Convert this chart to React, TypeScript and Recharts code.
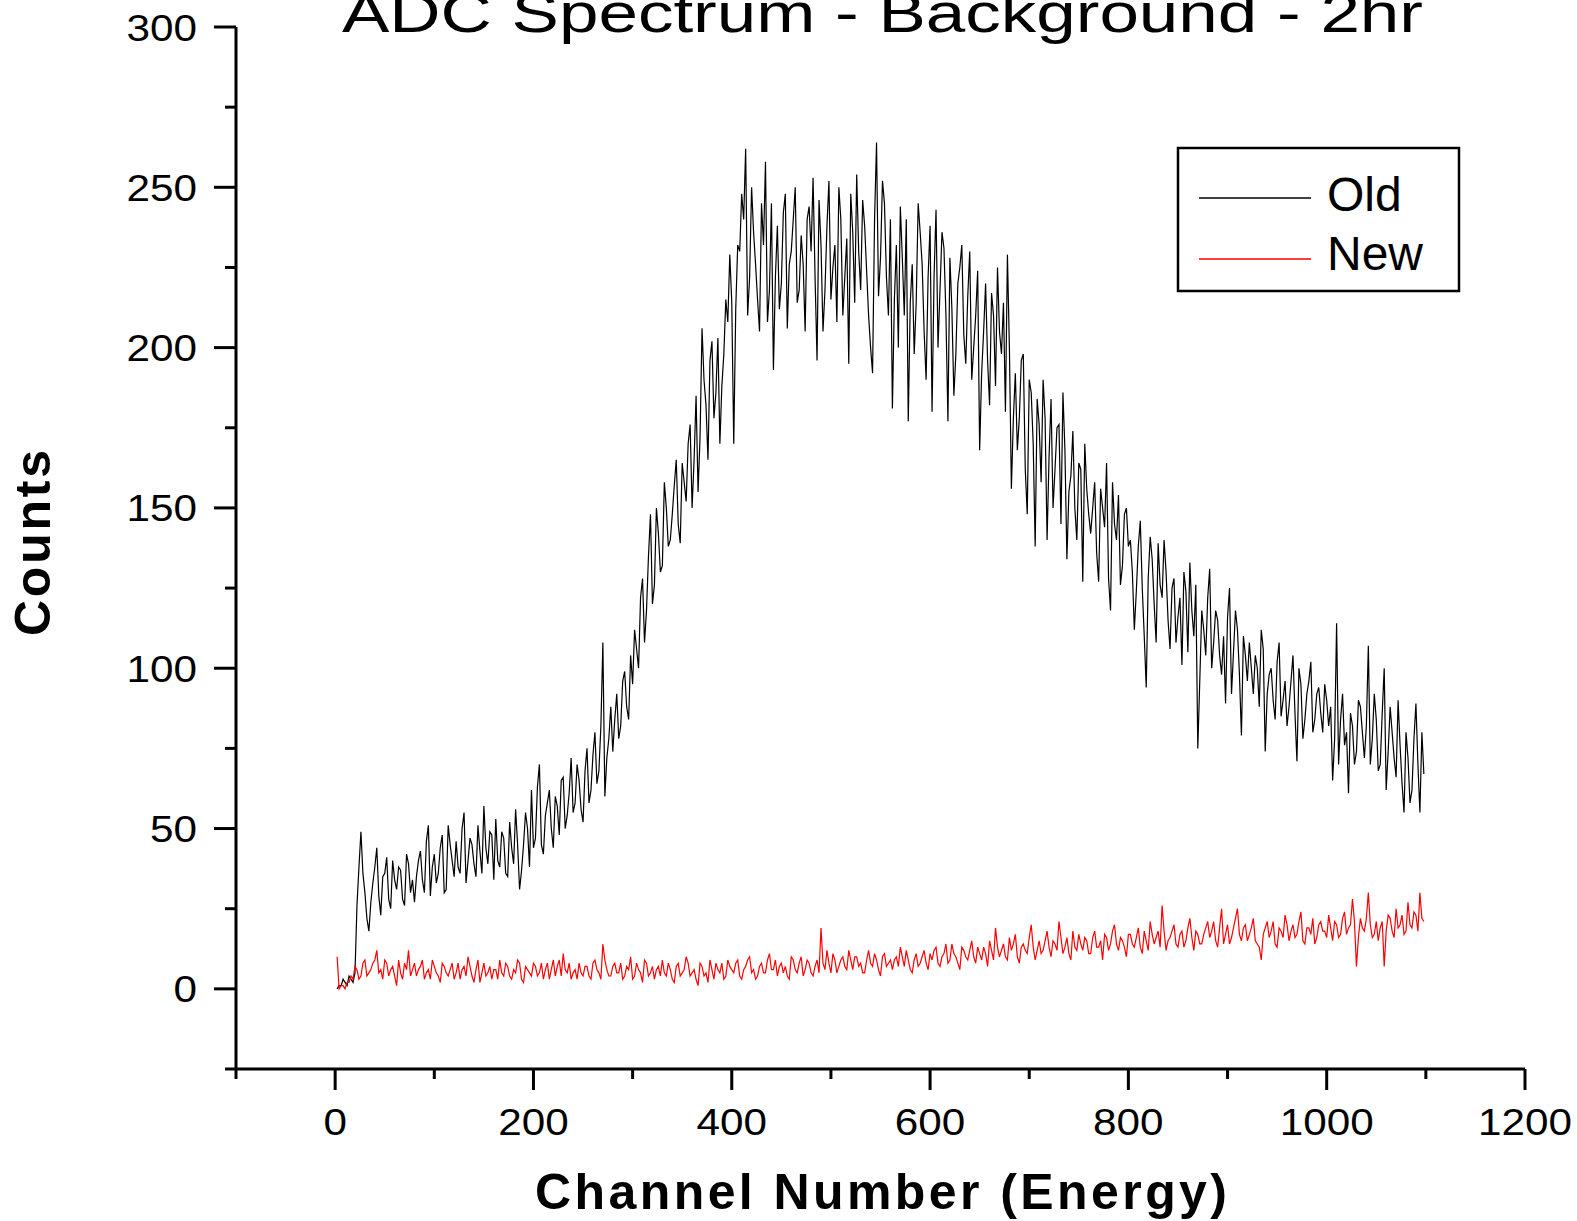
import { Label, Line, LineChart, XAxis, YAxis } from "recharts";

const FONT = '"Liberation Sans", Arial, sans-serif';

// spectrum read every 2 channels: the main arrays hold channels 2, 6, 10, ...
// and the "Mid" arrays the channels in between (4, 8, 12, ...)
const firstChannel = 2;
const channelStep = 4;

// "Old" detector, counts at channels 2, 6, 10 ... 1098
const oldCounts = [
  0, 1, 2, 4, 2, 26, 49, 30, 18, 33, // 2-38
  44, 23, 36, 28, 40, 31, 37, 26, 39, 34,
  35, 43, 30, 51, 38, 33, 44, 30, 51, 40,
  46, 36, 55, 40, 45, 35, 43, 57, 39, 48,
  53, 38, 47, 35, 44, 56, 31, 45, 50, 62,
  47, 70, 42, 58, 50, 60, 48, 66, 54, 72, // 202-238
  58, 65, 52, 75, 62, 80, 68, 108, 72, 88,
  84, 78, 96, 88, 104, 112, 100, 128, 118, 148,
  126, 142, 132, 150, 140, 157, 145, 164, 152, 176,
  165, 155, 206, 182, 196, 178, 203, 188, 215, 229,
  170, 232, 248, 262, 222, 236, 215, 245, 258, 218, // 402-438
  193, 238, 220, 248, 226, 240, 214, 235, 205, 244,
  253, 196, 232, 218, 252, 225, 208, 240, 222, 195,
  236, 254, 218, 238, 210, 192, 264, 228, 245, 210,
  181, 232, 244, 210, 177, 226, 214, 236, 205, 222,
  180, 243, 218, 231, 177, 212, 198, 225, 204, 216, // 602-638
  190, 210, 168, 205, 196, 217, 188, 205, 214, 229,
  156, 192, 178, 198, 148, 186, 138, 176, 190, 140,
  184, 162, 176, 186, 134, 160, 150, 164, 127, 156,
  142, 158, 127, 150, 164, 118, 145, 154, 132, 150,
  140, 112, 138, 125, 94, 141, 120, 139, 122, 130, // 802-838
  106, 128, 116, 101, 124, 133, 110, 75, 118, 104,
  131, 108, 115, 98, 89, 125, 105, 112, 79, 104,
  108, 92, 100, 112, 74, 98, 90, 102, 85, 96,
  88, 104, 71, 95, 84, 96, 80, 92, 86, 95,
  82, 65, 114, 84, 76, 61, 82, 74, 88, 72, // 1002-1038
  107, 78, 84, 70, 100, 74, 80, 66, 76, 55,
  72, 62, 89, 55, 67,
];

// "Old" detector, counts at channels 4, 8, 12 ... 1096
const oldCountsMid = [
  1, 3, 1, 3, 5, 38, 36, 22, 27, 38, // 4-40
  29, 35, 41, 25, 34, 38, 28, 42, 30, 27,
  40, 34, 46, 29, 42, 36, 48, 31, 45, 35,
  38, 50, 33, 47, 39, 51, 36, 44, 49, 34,
  40, 49, 36, 52, 39, 45, 37, 55, 38, 44,
  63, 45, 54, 62, 44, 57, 65, 50, 61, 55, // 204-240
  70, 56, 68, 58, 73, 64, 82, 60, 78, 74,
  92, 82, 99, 84, 95, 106, 122, 108, 135, 120,
  150, 130, 158, 138, 148, 165, 139, 158, 170, 150,
  185, 172, 190, 165, 202, 186, 170, 198, 208, 214,
  212, 230, 240, 210, 250, 226, 205, 232, 208, 245, // 404-440
  222, 212, 242, 206, 230, 250, 218, 226, 240, 230,
  222, 246, 205, 238, 215, 232, 250, 210, 234, 248,
  214, 230, 246, 224, 200, 240, 216, 252, 222, 240,
  215, 200, 228, 240, 214, 198, 245, 226, 190, 238,
  222, 200, 236, 210, 228, 185, 220, 232, 195, 230, // 604-640
  200, 224, 192, 220, 182, 210, 225, 198, 180, 200,
  178, 168, 196, 162, 190, 170, 184, 158, 178, 166,
  150, 175, 145, 168, 155, 174, 140, 162, 170, 148,
  150, 136, 156, 144, 128, 158, 140, 126, 148, 138,
  130, 124, 146, 110, 128, 134, 108, 126, 140, 115, // 804-840
  125, 108, 122, 130, 105, 118, 126, 96, 112, 122,
  100, 118, 104, 110, 116, 92, 118, 98, 110, 96,
  100, 104, 88, 106, 92, 100, 84, 108, 90, 82,
  96, 86, 100, 78, 92, 102, 84, 94, 80, 90,
  88, 78, 70, 92, 80, 86, 70, 90, 80, 82, // 1004-1040
  70, 92, 68, 86, 62, 88, 72, 90, 64, 80,
  58, 78, 70, 80,
];

// "New" detector, counts at channels 2, 6, 10 ... 1098
const newCounts = [
  10, 1, 0, 2, 3, 6, 4, 9, 5, 8, // 2-38
  12, 6, 9, 4, 7, 1, 5, 8, 12, 6,
  4, 7, 3, 6, 9, 5, 2, 7, 4, 8,
  5, 3, 7, 10, 4, 6, 2, 8, 5, 3,
  6, 9, 4, 7, 3, 5, 8, 2, 6, 4,
  7, 5, 3, 8, 6, 4, 9, 11, 5, 3, // 202-238
  6, 8, 4, 7, 3, 9, 5, 14, 6, 4,
  8, 5, 3, 7, 10, 4, 6, 2, 8, 5,
  3, 7, 9, 4, 6, 2, 8, 5, 10, 4,
  6, 1, 7, 5, 9, 3, 6, 8, 4, 7,
  5, 9, 3, 7, 10, 6, 4, 8, 5, 11, // 402-438
  6, 4, 8, 7, 3, 9, 5, 10, 6, 8,
  4, 9, 19, 6, 8, 11, 5, 9, 7, 12,
  6, 10, 8, 5, 12, 7, 9, 4, 11, 8,
  6, 10, 13, 7, 9, 5, 11, 8, 12, 6,
  9, 13, 7, 11, 8, 14, 10, 6, 12, 9, // 602-638
  15, 8, 11, 13, 7, 12, 19, 10, 14, 9,
  12, 17, 8, 14, 11, 20, 9, 15, 12, 18,
  10, 14, 21, 11, 16, 9, 13, 17, 12, 15,
  11, 18, 13, 9, 16, 14, 20, 12, 15, 10,
  17, 13, 19, 11, 15, 21, 14, 18, 26, 12, // 802-838
  16, 20, 13, 18, 15, 22, 12, 17, 14, 19,
  16, 21, 13, 25, 17, 14, 19, 25, 15, 20,
  17, 22, 14, 9, 19, 16, 21, 13, 18, 23,
  15, 20, 17, 24, 14, 19, 22, 16, 21, 18,
  23, 15, 20, 17, 24, 19, 28, 7, 22, 18, // 1002-1038
  30, 16, 21, 19, 7, 23, 18, 25, 20, 17,
  27, 19, 23, 30, 21,
];

// "New" detector, counts at channels 4, 8, 12 ... 1096
const newCountsMid = [
  0, 1, 2, 4, 7, 3, 8, 4, 6, 9, // 4-40
  5, 3, 8, 6, 4, 9, 3, 6, 4, 8,
  6, 9, 5, 3, 7, 4, 8, 5, 6, 3,
  8, 6, 4, 7, 2, 9, 5, 4, 7, 6,
  3, 5, 8, 4, 6, 9, 3, 7, 5, 8,
  4, 8, 6, 3, 9, 7, 4, 6, 8, 5, // 204-240
  3, 5, 7, 4, 8, 6, 3, 9, 4, 7,
  5, 8, 4, 6, 3, 8, 5, 9, 4, 7,
  6, 4, 5, 8, 3, 7, 4, 6, 8, 5,
  3, 8, 4, 2, 6, 8, 5, 3, 9, 6,
  8, 4, 6, 9, 5, 3, 7, 5, 9, 6, // 404-440
  9, 7, 5, 4, 10, 6, 8, 4, 9, 5,
  7, 5, 8, 12, 5, 9, 7, 10, 6, 9,
  10, 7, 5, 9, 8, 11, 6, 10, 7, 9,
  9, 7, 10, 12, 6, 9, 7, 10, 8, 11,
  12, 8, 10, 14, 9, 11, 8, 13, 10, 12, // 604-640
  10, 13, 9, 11, 15, 9, 13, 12, 10, 16,
  14, 10, 13, 12, 16, 13, 12, 11, 15, 13,
  15, 12, 16, 13, 11, 18, 12, 14, 16, 11,
  16, 13, 15, 17, 12, 18, 14, 16, 13, 17,
  14, 16, 13, 18, 12, 17, 16, 13, 18, 15, // 804-840
  18, 14, 17, 13, 19, 16, 18, 14, 17, 21,
  18, 15, 19, 14, 20, 16, 22, 17, 19, 15,
  19, 15, 13, 17, 21, 18, 14, 19, 16, 20,
  18, 16, 21, 15, 19, 17, 14, 20, 18, 16,
  19, 21, 16, 22, 17, 20, 21, 16, 19, 22, // 1004-1040
  20, 17, 15, 21, 18, 22, 16, 19, 23, 18,
  20, 24, 18, 22,
];

const xTicks = [-100, 0, 100, 200, 300, 400, 500, 600, 700, 800, 900, 1000, 1100, 1200];
const yTicks = [-25, 0, 25, 50, 75, 100, 125, 150, 175, 200, 225, 250, 275, 300];

const title = "ADC Spectrum - Background - 2hr";
const xTitle = "Channel Number (Energy)";
const yTitle = "Counts";
const legendItems = [
  { name: "Old", color: "#000000" },
  { name: "New", color: "#ff0000" },
];

type Row = { channel: number; old: number; new: number };
const rows: Row[] = [];
oldCounts.forEach((v, i) => {
  const c = firstChannel + i * channelStep;
  rows.push({ channel: c, old: v, new: newCounts[i] });
  if (i < oldCountsMid.length) {
    rows.push({ channel: c + 2, old: oldCountsMid[i], new: newCountsMid[i] });
  }
});

// tick labels in the original are drawn wide, ~23.5px per digit
const digitWidth = 23.5;

function XTick({ x, y, payload }: any) {
  const v = payload.value;
  const major = v % 200 === 0;
  const s = String(v);
  return (
    <g>
      <line x1={x} x2={x} y1={y} y2={y + (major ? 21 : 10)} stroke="#000" strokeWidth={3} />
      {major && (
        <text
          x={x}
          y={y + 66}
          textAnchor="middle"
          fontFamily={FONT}
          fontSize={37}
          fill="#000"
          textLength={s.length * digitWidth}
          lengthAdjust="spacingAndGlyphs"
        >
          {s}
        </text>
      )}
    </g>
  );
}

function YTick({ x, y, payload }: any) {
  const v = payload.value;
  const major = v % 50 === 0;
  const s = String(v);
  return (
    <g>
      <line x1={x} x2={x - (major ? 22 : 11)} y1={y} y2={y} stroke="#000" strokeWidth={3} />
      {major && (
        <text
          x={x - 39}
          y={y + 13.5}
          textAnchor="end"
          fontFamily={FONT}
          fontSize={37}
          fill="#000"
          textLength={s.length * digitWidth}
          lengthAdjust="spacingAndGlyphs"
        >
          {s}
        </text>
      )}
    </g>
  );
}

const renderXTitle = () => (
  <text
    x={881}
    y={1209}
    textAnchor="middle"
    fontFamily={FONT}
    fontWeight="bold"
    fontSize={50}
    fill="#000"
    textLength={692}
    lengthAdjust="spacing"
  >
    {xTitle}
  </text>
);

const renderYTitle = () => (
  <text
    x={50}
    y={543}
    transform="rotate(-90, 50, 543)"
    textAnchor="middle"
    fontFamily={FONT}
    fontWeight="bold"
    fontSize={50}
    fill="#000"
    textLength={186}
    lengthAdjust="spacing"
  >
    {yTitle}
  </text>
);

export default function App() {
  return (
    <div style={{ position: "absolute", left: 0, top: 0, width: 1577, height: 1221, background: "#fff" }}>
      <LineChart width={1577} height={1221} data={rows} margin={{ top: 27, right: 52, bottom: 0, left: 0 }}>
        <XAxis
          dataKey="channel"
          type="number"
          domain={[-100, 1200]}
          allowDataOverflow
          ticks={xTicks}
          interval={0}
          height={152}
          axisLine={{ stroke: "#000", strokeWidth: 3 }}
          tickLine={false}
          tickSize={0}
          tickMargin={0}
          tick={<XTick />}
        >
          <Label content={renderXTitle} />
        </XAxis>
        <YAxis
          type="number"
          domain={[-25, 300]}
          allowDataOverflow
          ticks={yTicks}
          interval={0}
          width={236}
          axisLine={{ stroke: "#000", strokeWidth: 3 }}
          tickLine={false}
          tickSize={0}
          tickMargin={0}
          tick={<YTick />}
        >
          <Label content={renderYTitle} />
        </YAxis>
        <Line
          type="linear"
          dataKey="old"
          name="Old"
          stroke="#000000"
          strokeWidth={1.2}
          dot={false}
          isAnimationActive={false}
        />
        <Line
          type="linear"
          dataKey="new"
          name="New"
          stroke="#ff0000"
          strokeWidth={1.2}
          dot={false}
          isAnimationActive={false}
        />
      </LineChart>

      {/* title (cut off by the top edge, as in the original) and legend box */}
      <svg
        width={1577}
        height={320}
        style={{ position: "absolute", left: 0, top: 0, pointerEvents: "none" }}
      >
        <text
          x={342}
          y={32}
          fontFamily={FONT}
          fontSize={56}
          fill="#000"
          textLength={1081}
          lengthAdjust="spacingAndGlyphs"
        >
          {title}
        </text>
        <rect x={1178} y={148} width={281} height={143} fill="none" stroke="#000" strokeWidth={2.5} />
        {legendItems.map((item, i) => (
          <g key={item.name}>
            <line x1={1199} x2={1311} y1={198 + i * 61} y2={198 + i * 61} stroke={item.color} strokeWidth={1.5} />
            <text x={1327} y={211 + i * 59} fontFamily={FONT} fontSize={48} fill="#000">
              {item.name}
            </text>
          </g>
        ))}
      </svg>
    </div>
  );
}
